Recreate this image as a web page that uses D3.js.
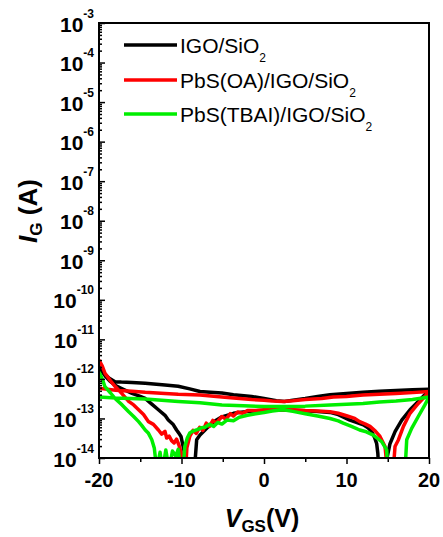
<!DOCTYPE html>
<html>
<head>
<meta charset="utf-8">
<script src="https://cdn.jsdelivr.net/npm/d3@7"></script>
<style>
  body { margin: 0; background: #fff; }
  svg text { font-family: Arial, "Liberation Sans", sans-serif; fill: #000; }
</style>
</head>
<body>
<svg width="443" height="537"></svg>
<script>
// gate current vs gate voltage
// forward sweep (lower branch with the dips), then reverse sweep (flat branch)
const vIgoFwd = [-20, -19.6, -19.2, -18.6, -18, -17, -16, -15, -14.4, -13.6, -12.8, -12, -11.6, -11, -10.6,
  -10.3, -10.06, -9.8, -9.6, -8.5, -8.36, -8.16, -7.76, -7.15, -6.5, -6, -5.1, -4.5, -3.7, -3,
  -2, -1, 0, 1, 2.3, 3.5, 5, 6.5, 8, 9, 10.4, 11.2, 12.04, 12.6, 13.05,
  13.4, 13.66, 13.8, 13.9, 14.85, 14.95, 15.27, 15.9, 16.7, 17.7, 18.7, 19.7, 20];
const iIgoFwd = [2.2e-12, 1.5e-12, 1.15e-12, 8.5e-13, 6.8e-13, 5.4e-13, 4.3e-13, 3.6e-13, 3.2e-13, 2.3e-13, 1.66e-13, 1.2e-13, 9.1e-14, 7.0e-14, 5.1e-14,
  4.2e-14, 3.5e-14, 1.95e-14, 1.2e-14, 5e-15, 8e-15, 2.9e-14, 3.8e-14, 5.1e-14, 7.0e-14, 8.5e-14, 1.1e-13, 1.2e-13, 1.35e-13, 1.42e-13,
  1.5e-13, 1.56e-13, 1.6e-13, 1.64e-13, 1.66e-13, 1.62e-13, 1.56e-13, 1.5e-13, 1.42e-13, 1.25e-13, 9.1e-14, 8.0e-14, 6.9e-14, 5.8e-14, 4.7e-14,
  3.3e-14, 2.3e-14, 1.3e-14, 5e-15, 5e-15, 1.1e-14, 2.3e-14, 4.7e-14, 9.1e-14, 1.66e-13, 2.7e-13, 4.4e-13, 5.2e-13];
const vIgoRev = [20, 18, 16, 14, 12, 10, 8, 6.5, 5, 3.5, 2.5, 1.5, 0, -1.5, -3.7,
  -5.1, -6.5, -7.76, -9, -10.4, -12, -14.4, -16, -17.3, -18.06, -18.8, -19.4, -20];
const iIgoRev = [5.5e-13, 5.3e-13, 5.1e-13, 4.9e-13, 4.6e-13, 4.3e-13, 4.0e-13, 3.6e-13, 3.2e-13, 2.9e-13, 2.7e-13, 2.8e-13, 3.2e-13, 3.6e-13, 4.0e-13,
  4.4e-13, 4.6e-13, 4.8e-13, 5.6e-13, 6.5e-13, 7.0e-13, 7.8e-13, 8.1e-13, 8.3e-13, 8.5e-13, 1.05e-12, 1.4e-12, 1.8e-12];

const vOaFwd = [-20, -19.6, -19.27, -18.6, -18.06, -17.2, -16.4, -15.8, -15.2, -14.6, -14, -13.4, -12.8, -12.4, -12,
  -11.8, -11.5, -11.2, -10.9, -10.6, -10.3, -10, -9.8, -9.5, -9.35, -9, -8.6, -8.2, -7.8, -7.4,
  -7, -6.6, -6.2, -5.8, -5.1, -4.6, -4.1, -3.7, -3.2, -2.6, -2, -1, 0, 1, 2.3,
  3.5, 5, 6.5, 8, 9, 10, 11, 11.6, 12.3, 12.85, 13.5, 14.06, 14.67, 14.95, 15.67,
  15.88, 16.3, 16.9, 17.7, 18.7, 19.9, 20];
const iOaFwd = [3.0e-12, 2.1e-12, 1.38e-12, 8.9e-13, 6.5e-13, 4.2e-13, 2.7e-13, 2.2e-13, 1.66e-13, 1.26e-13, 8.3e-14, 7.1e-14, 5.1e-14, 4.0e-14, 4.7e-14,
  3.2e-14, 3.6e-14, 2.75e-14, 2.4e-14, 3.0e-14, 2.1e-14, 1.26e-14, 5e-15, 5e-15, 1.8e-14, 3.5e-14, 5.0e-14, 4.2e-14, 6.0e-14, 5.0e-14,
  7.6e-14, 6.3e-14, 8.9e-14, 7.6e-14, 1.12e-13, 9.6e-14, 1.32e-13, 1.15e-13, 1.45e-13, 1.35e-13, 1.58e-13, 1.58e-13, 1.66e-13, 1.7e-13, 1.66e-13,
  1.66e-13, 1.58e-13, 1.55e-13, 1.48e-13, 1.35e-13, 1.17e-13, 1.0e-13, 8.3e-14, 7.2e-14, 6.3e-14, 4.8e-14, 3.5e-14, 1.95e-14, 5e-15, 5e-15,
  1.95e-14, 2.9e-14, 6.3e-14, 1.35e-13, 2.4e-13, 4.4e-13, 4.8e-13];
const vOaRev = [20, 18, 16, 14, 12, 10, 8.4, 7, 5, 3.5, 2.3, 1, 0, -1.5, -3.7,
  -5.1, -7.76, -10.4, -12, -14.4, -16, -18, -20];
const iOaRev = [4.8e-13, 4.5e-13, 4.3e-13, 4.1e-13, 3.9e-13, 3.6e-13, 3.5e-13, 3.2e-13, 3.0e-13, 2.8e-13, 2.7e-13, 2.75e-13, 2.9e-13, 3.0e-13, 3.3e-13,
  3.5e-13, 3.9e-13, 4.1e-13, 4.3e-13, 4.6e-13, 4.9e-13, 5.2e-13, 5.8e-13];

const vTbaiFwd = [-20, -19.6, -19.3, -18.6, -18.06, -17.2, -16.4, -15.8, -15.2, -14.8, -14.4, -14, -13.6, -13.3, -13,
  -12.6, -12.3, -11.9, -11.5, -11.1, -10.7, -10.4, -10.1, -9.8, -9.6, -9.3, -9, -8.6, -8.1, -7.6,
  -7.15, -6.6, -6.1, -5.6, -5.1, -4.5, -3.7, -3, -2, -1, 0, 1, 2.3, 3.5, 5,
  6.5, 8, 9, 9.6, 10.6, 11.6, 12.4, 13.25, 14.26, 14.87, 15, 17.1, 17.3, 17.9, 18.7,
  19.5, 20];
const iTbaiFwd = [1.5e-12, 1.0e-12, 6.5e-13, 4.4e-13, 3.2e-13, 2.2e-13, 1.48e-13, 1.12e-13, 8.3e-14, 6.6e-14, 5.1e-14, 4.2e-14, 2.9e-14, 1.8e-14, 5e-15,
  1.4e-14, 5e-15, 1.6e-14, 5e-15, 1.5e-14, 1.12e-14, 1.66e-14, 5e-15, 5e-15, 1.95e-14, 3.2e-14, 4.3e-14, 4.8e-14, 5.2e-14, 5.8e-14,
  6.0e-14, 7.1e-14, 6.3e-14, 7.9e-14, 7.2e-14, 9.1e-14, 8.7e-14, 1.07e-13, 1.2e-13, 1.32e-13, 1.41e-13, 1.55e-13, 1.66e-13, 1.51e-13, 1.32e-13,
  1.15e-13, 1.0e-13, 8.7e-14, 7.6e-14, 6.3e-14, 5.1e-14, 4.6e-14, 3.8e-14, 2.6e-14, 1.6e-14, 5e-15, 5e-15, 2.9e-14, 5.6e-14, 1.12e-13,
  2.2e-13, 3.5e-13];
const vTbaiRev = [20, 18, 16, 14, 12, 10, 8, 5, 2.3, 0, -2.5, -5.1, -7.76, -10.4, -14.4, -18, -20];
const iTbaiRev = [3.5e-13, 3.0e-13, 2.75e-13, 2.6e-13, 2.4e-13, 2.3e-13, 2.2e-13, 2.05e-13, 2.0e-13, 2.0e-13, 2.1e-13, 2.2e-13, 2.5e-13, 2.7e-13, 3.1e-13, 3.3e-13, 3.5e-13];

const seriesNames = ['IGO/SiO', 'PbS(OA)/IGO/SiO', 'PbS(TBAI)/IGO/SiO'];
const seriesColors = ['#000000', '#ff0000', '#00ee00'];
const xTicks = [-20, -10, 0, 10, 20];
const xMinorTicks = [-15, -5, 5, 15];
const yDecades = [-14, -13, -12, -11, -10, -9, -8, -7, -6, -5, -4, -3];

const svg = d3.select('svg');

const x = d3.scaleLinear().domain([-20, 20]).range([99, 429]);
const y = d3.scaleLog().domain([1e-14, 1e-3]).range([458, 23]);

svg.append('clipPath').attr('id', 'plot-clip')
  .append('rect')
    .attr('x', 99).attr('y', 23)
    .attr('width', 330).attr('height', 435);

function toPoints(vs, is) {
  return vs.map((v, i) => [v, is[i]]);
}

const series = [
  toPoints(vIgoFwd, iIgoFwd).concat(toPoints(vIgoRev, iIgoRev)),
  toPoints(vOaFwd, iOaFwd).concat(toPoints(vOaRev, iOaRev)),
  toPoints(vTbaiFwd, iTbaiFwd).concat(toPoints(vTbaiRev, iTbaiRev)),
];

let line = d3.line()
  .x(d => x(d[0]))
  .y(d => y(d[1]));

svg.append('g')
  .attr('clip-path', 'url(#plot-clip)')
  .selectAll('path')
  .data(series)
  .enter()
  .append('path')
    .attr('d', line)
    .attr('fill', 'none')
    .attr('stroke', (d, i) => seriesColors[i])
    .attr('stroke-width', 3.5)
    .attr('stroke-linejoin', 'round');

// left axis, ticks pointing into the plot
let minorY = [];
yDecades.slice(0, -1).forEach(dec => {
  for (let k = 2; k <= 9; k++) minorY.push(k * Math.pow(10, dec));
});

svg.append('g')
  .attr('transform', 'translate(99,0)')
  .call(d3.axisLeft(y).tickValues(yDecades.map(d => Math.pow(10, d))).tickSize(-6).tickFormat(''))
  .call(g => g.select('.domain').remove());
svg.append('g')
  .attr('transform', 'translate(99,0)')
  .call(d3.axisLeft(y).tickValues(minorY).tickSize(-3).tickFormat(''))
  .call(g => g.select('.domain').remove());

// bottom axis, ticks pointing out
svg.append('g')
  .attr('transform', 'translate(0,458)')
  .call(d3.axisBottom(x).tickValues(xTicks).tickSize(6).tickFormat(''))
  .call(g => g.select('.domain').remove());
svg.append('g')
  .attr('transform', 'translate(0,458)')
  .call(d3.axisBottom(x).tickValues(xMinorTicks).tickSize(4).tickFormat(''))
  .call(g => g.select('.domain').remove());

svg.selectAll('.tick line').attr('stroke', '#000').attr('stroke-width', 1.5);

// frame
svg.append('rect')
  .attr('x', 99).attr('y', 23)
  .attr('width', 330).attr('height', 435)
  .attr('fill', 'none')
  .attr('stroke', '#000')
  .attr('stroke-width', 2);

// y tick labels 10^n
let yLabels = svg.append('g').selectAll('text')
  .data(yDecades)
  .enter()
  .append('text')
    .attr('x', 94)
    .attr('y', d => y(Math.pow(10, d)) + 8.5)
    .attr('text-anchor', 'end')
    .attr('font-weight', 'bold');
yLabels.append('tspan').attr('font-size', '21px').text('10');
yLabels.append('tspan').attr('font-size', '12px').attr('dy', -14).text(d => d);

// x tick labels
svg.append('g').selectAll('text')
  .data(xTicks)
  .enter()
  .append('text')
    .attr('x', d => x(d))
    .attr('y', 487)
    .attr('text-anchor', 'middle')
    .attr('font-weight', 'bold')
    .attr('font-size', '20px')
    .text(d => d);

// axis titles
let xTitle = svg.append('text')
  .attr('x', 262).attr('y', 527)
  .attr('text-anchor', 'middle')
  .attr('font-weight', 'bold');
xTitle.append('tspan').attr('font-size', '25px').attr('font-style', 'italic').text('V');
xTitle.append('tspan').attr('font-size', '17px').attr('dy', 5).text('GS');
xTitle.append('tspan').attr('font-size', '25px').attr('dy', -5).text('(V)');

let yTitle = svg.append('text')
  .attr('transform', 'translate(37,211) rotate(-90)')
  .attr('text-anchor', 'middle')
  .attr('font-weight', 'bold');
yTitle.append('tspan').attr('font-size', '26px').attr('font-style', 'italic').text('I');
yTitle.append('tspan').attr('font-size', '17px').attr('dy', 5).text('G');
yTitle.append('tspan').attr('font-size', '26px').attr('dy', -5).text(' (A)');

// legend
const legendY = [45, 80, 114];
let legend = svg.append('g').selectAll('g')
  .data(seriesNames)
  .enter()
  .append('g')
    .attr('transform', (d, i) => `translate(0,${legendY[i]})`);

legend.append('line')
  .attr('x1', 124).attr('x2', 177)
  .attr('y1', 0).attr('y2', 0)
  .attr('stroke', (d, i) => seriesColors[i])
  .attr('stroke-width', 3.5);

let legendText = legend.append('text')
  .attr('x', 180)
  .attr('y', 8)
  .attr('font-size', '21px');
legendText.append('tspan').text(d => d);
legendText.append('tspan').attr('font-size', '12px').attr('dy', 9).text('2');
</script>
</body>
</html>
